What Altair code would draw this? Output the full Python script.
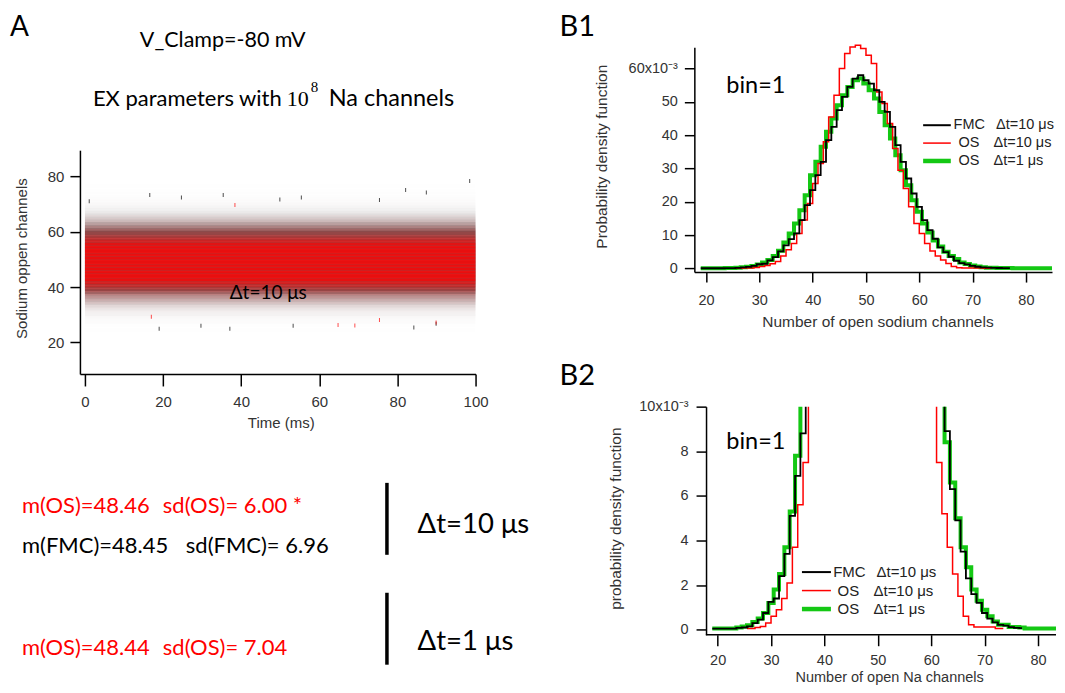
import altair as alt
import pandas as pd

# ------------------------------------------------------------------ data
# histogram of open-channel counts (probability density, units of 1e-3)
fmc_n = list(range(19, 78))
fmc_pdf = [0.05, 0.05, 0.05, 0.05, 0.05, 0.08, 0.1, 0.15, 0.3, 0.45,
           0.75, 1.25, 1.4, 2.4, 3.4, 5.1, 6.9, 8.8, 10.5, 14.5,
           19, 23.5, 28, 32, 38.5, 42.5, 47.5, 51.5, 54.5, 57,
           58, 56.5, 55.5, 53.5, 50, 47, 42.5, 37, 32, 27,
           22.5, 18.5, 14.5, 11.5, 8.9, 6.3, 4.9, 3.5, 2.3, 1.6,
           1.2, 0.75, 0.5, 0.33, 0.22, 0.18, 0.12, 0.08, 0.07]

os10_n = list(range(25, 74))          # bin left edges
os10_pdf = [0.05, 0.05, 0.1, 0.15, 0.3, 0.6, 0.9, 1.4, 2.1, 3.7,
            5.6, 7.5, 10.5, 14.5, 19.5, 25.5, 31.5, 38, 45.5, 52,
            60, 64.5, 66.5, 67, 66, 64, 61.5, 53, 49.5, 43.5,
            36, 29.5, 24, 18.5, 13.5, 10.5, 7.5, 5.2, 3.7, 2.5,
            1.5, 0.6, 0.22, 0.12, 0.12, 0.12, 0.12, 0.05, 0.05]

os1_n = list(range(19, 86))
os1_pdf = [0.05, 0.05, 0.05, 0.05, 0.05, 0.1, 0.15, 0.2, 0.35, 0.5,
           0.75, 1.2, 1.8, 2.5, 3.7, 5.3, 7.8, 10.5, 13.5, 17.5,
           22, 28, 32, 36.5, 41, 45, 49, 52, 54.5, 56.5,
           57, 55.5, 53.5, 51, 47, 43, 39, 34, 29.5, 25,
           20.5, 17, 13.5, 10.8, 8.4, 6.6, 5.0, 3.7, 2.8, 1.8,
           1.3, 0.9, 0.6, 0.37, 0.22, 0.22, 0.12, 0.12, 0.1, 0.05,
           0.05, 0.05, 0.05, 0.05, 0.05, 0.05, 0.05]

rec_start = 0     # ms, recording span in panel A
rec_end = 100

# sparse far-off samples visible in panel A
out_t = [1.1, 16.6, 19.0, 29.7, 37.1, 35.4, 24.7, 55.4, 82.1, 87.4, 98.5,
         84.2, 53.3, 89.9, 49.9, 75.4, 38.4, 64.8, 69.1, 75.4, 89.9, 17.0]
out_v = [71.0, 73.2, 24.9, 26.0, 24.9, 73.2, 72.3, 72.3, 75.0, 74.1, 78.3,
         25.4, 26.0, 26.7, 71.6, 71.4, 69.6, 26.3, 26.1, 28.1, 27.2, 29.3]
out_s = ["FMC"] * 16 + ["OS"] * 6

stats_os10 = ["m(OS)=48.46", "sd(OS)= 6.00 *"]
stats_fmc = ["m(FMC)=48.45", "sd(FMC)= 6.96"]
stats_os1 = ["m(OS)=48.44", "sd(OS)= 7.04"]

legend_names = ["FMC", "OS", "OS"]
legend_dt = ["Δt=10 μs", "Δt=10 μs", "Δt=1 μs"]

a_xticks = [0, 20, 40, 60, 80, 100]
a_yticks = [20, 40, 60, 80]
b_xticks = [20, 30, 40, 50, 60, 70, 80]
b1_yticks = [0, 10, 20, 30, 40, 50, 60]
b2_yticks = [0, 2, 4, 6, 8, 10]

# ------------------------------------------------------------------ style
BLACK = "#000000"
RED = "#ff0000"
GREEN = "#14c814"
AX = "Liberation Sans"
TX = "Lato"
SERIF = "Liberation Serif"

fmc_df = pd.DataFrame({"n": fmc_n, "pdf": fmc_pdf})
os10_df = pd.DataFrame({"n": os10_n, "pdf": os10_pdf})
os1_df = pd.DataFrame({"n": os1_n, "pdf": os1_pdf})
out_df = pd.DataFrame({"t": out_t, "v": out_v, "s": out_s})
one = pd.DataFrame({"k": [0]})


def txt(text, x, y, size, color=BLACK, font=TX, align="left", baseline="alphabetic"):
    return alt.Chart(one).mark_text(
        text=text, fontSize=size, color=color, font=font, align=align, baseline=baseline
    ).encode(x=alt.value(x), y=alt.value(y))


def rule(x, x2, y, y2, color=BLACK, width=1.5):
    return alt.Chart(one).mark_rule(color=color, strokeWidth=width).encode(
        x=alt.value(x), x2=alt.value(x2), y=alt.value(y), y2=alt.value(y2)
    )


# ------------------------------------------------------------------ header (top-left)
# invisible frame covering the whole 1049x677 drawing area (fixes the origin)
anchor = alt.Chart(one).mark_rect(opacity=0).encode(
    x=alt.value(-72), x2=alt.value(977), y=alt.value(-39), y2=alt.value(638)
)
header = alt.layer(
    anchor,
    txt("A", -70, -11, 28),
    txt("V_Clamp=-80 mV", 60, 0, 21.5),
    txt("EX parameters with", 202, 59, 22, align="right"),
    txt("10", 207, 59, 22, font=SERIF),
    txt("8", 231, 45, 15, font=SERIF),
    txt("Na channels", 249, 59, 23.5),
).properties(width=396, height=103)

# ------------------------------------------------------------------ panel A
xA = alt.Scale(domain=[-1.28, 100], nice=False, zero=False)
yA = alt.Scale(domain=[8.6, 89.4], nice=False, zero=False)
axA_x = alt.Axis(values=a_xticks, tickSize=12, labelPadding=9, labelFontSize=15,
                 title="Time (ms)", titleX=201, titleY=49, titleBaseline="middle",
                 titleFontSize=15, labelFlush=False)
axA_y = alt.Axis(values=a_yticks, tickSize=10, labelPadding=6, labelFontSize=15,
                 title="Sodium oppen channels", titleX=-58, titleY=108,
                 titleBaseline="middle", titleFontSize=15, labelFlush=False)

band_fmc = alt.Chart(fmc_df).transform_calculate(
    t0=str(rec_start), t1=str(rec_end), lo="datum.n - 0.5", hi="datum.n + 0.5",
    op="min(0.6, datum.pdf / 30)"
).mark_rect(color=BLACK).encode(
    x=alt.X("t0:Q", scale=xA, axis=axA_x), x2="t1:Q",
    y=alt.Y("lo:Q", scale=yA, axis=axA_y), y2="hi:Q",
    opacity=alt.Opacity("op:Q", scale=None),
)
band_os = alt.Chart(os10_df).transform_calculate(
    t0=str(rec_start), t1=str(rec_end), lo="datum.n", hi="datum.n + 1",
    op="min(0.85, datum.pdf / 45)"
).mark_rect(color=RED).encode(
    x=alt.X("t0:Q", scale=xA, axis=axA_x), x2="t1:Q",
    y=alt.Y("lo:Q", scale=yA, axis=axA_y), y2="hi:Q",
    opacity=alt.Opacity("op:Q", scale=None),
)
ticks = alt.Chart(out_df).transform_calculate(t0="datum.t", lo="datum.v").mark_tick(
    orient="vertical", size=4, thickness=1
).encode(
    x=alt.X("t0:Q", scale=xA, axis=axA_x),
    y=alt.Y("lo:Q", scale=yA, axis=axA_y),
    color=alt.Color("s:N", scale=alt.Scale(domain=["FMC", "OS"], range=[BLACK, RED]), legend=None),
)

panelA = alt.layer(
    band_fmc, band_os, ticks,
    txt("Δt=10 μs", 188.5, 143, 19, baseline="middle", align="center"),
    txt(stats_os10[0], -58, 363, 22, color=RED),
    txt(stats_os10[1], 83, 363, 22, color=RED),
    txt(stats_fmc[0], -58, 403, 22),
    txt(stats_fmc[1], 106, 403, 22),
    txt(stats_os1[0], -58, 505, 22, color=RED),
    txt(stats_os1[1], 83, 505, 22, color=RED),
    rule(307.3, 307.3, 333, 405, width=3.5),
    rule(307.3, 307.3, 443, 515, width=3.5),
    txt("Δt=10 μs", 338, 383, 27.5),
    txt("Δt=1 μs", 338, 500, 27.5),
).properties(width=396, height=224)


# ------------------------------------------------------------------ histograms
def hist_lines(xs, ys, xaxis, yaxis, clip):
    g = alt.Chart(os1_df).transform_calculate(xc="datum.n").mark_line(
        interpolate="step", color=GREEN, strokeWidth=4, clip=True
    ).encode(x=alt.X("xc:Q", scale=xs, axis=xaxis), y=alt.Y("pdf:Q", scale=ys, axis=yaxis))
    r = alt.Chart(os10_df).transform_calculate(xc="datum.n + 0.5").mark_line(
        interpolate="step", color=RED, strokeWidth=1.5, clip=clip
    ).encode(x=alt.X("xc:Q", scale=xs, axis=xaxis), y=alt.Y("pdf:Q", scale=ys, axis=yaxis))
    b = alt.Chart(fmc_df).transform_calculate(xc="datum.n").mark_line(
        interpolate="step", color=BLACK, strokeWidth=1.8, clip=clip
    ).encode(x=alt.X("xc:Q", scale=xs, axis=xaxis), y=alt.Y("pdf:Q", scale=ys, axis=yaxis))
    return [g, r, b]


def legend(x_line, x_name0, x_name, x_dt0, x_dt, y0, dy, size):
    layers = []
    colors = [BLACK, RED, GREEN]
    widths = [2, 1.5, 4.5]
    for i in range(3):
        y = y0 + i * dy
        layers.append(rule(x_line[0], x_line[1], y, y, color=colors[i], width=widths[i]))
        layers.append(txt(legend_names[i], x_name0 if i == 0 else x_name, y, size,
                          color="#222", font=AX, baseline="middle"))
        layers.append(txt(legend_dt[i], x_dt0 if i == 0 else x_dt, y, size,
                          color="#222", font=AX, baseline="middle"))
    return layers


xB1 = alt.Scale(domain=[17.8, 84.9], nice=False, zero=False)
yB1 = alt.Scale(domain=[-1.1, 66.4], nice=False, zero=False)
axB1_x = alt.Axis(values=b_xticks, tickSize=10, labelPadding=11, labelFlush=False,
                  title="Number of open sodium channels", titleX=183.3, titleY=49.7,
                  titleBaseline="middle")
axB1_y = alt.Axis(values=b1_yticks, tickSize=10, labelPadding=7, labelFlush=False,
                  labelExpr="datum.value == 60 ? '60x10⁻³' : datum.label",
                  title="Probability density function", titleX=-93.3, titleY=109,
                  titleBaseline="middle")

b1 = alt.layer(
    *hist_lines(xB1, yB1, axB1_x, axB1_y, False),
    txt("B1", -135, -11, 29),
    txt("bin=1", 32, 46, 23.5),
    *legend((229, 256.7), 259.5, 264.5, 302, 299.5, 78, 17.9, 14.5),
).properties(width=358, height=225)

xB2 = alt.Scale(domain=[15.64, 83.37], nice=False, zero=False)
yB2 = alt.Scale(domain=[-0.224, 10], nice=False, zero=False)
axB2_x = alt.Axis(values=b_xticks, tickSize=11, labelPadding=8, labelFlush=False,
                  domain=False,
                  title="Number of open Na channels", titleX=195, titleY=42.5,
                  titleFontSize=14.5, titleBaseline="middle")
axB2_y = alt.Axis(values=b2_yticks, tickSize=10, labelPadding=8, labelFlush=False,
                  offset=-11.7,
                  labelExpr="datum.value == 10 ? '10x10⁻³' : datum.label",
                  title="probability density function", titleX=-90.7, titleY=111.6,
                  titleBaseline="middle")
b2_axis_line = alt.Chart(one).mark_rule(color=BLACK, strokeWidth=1.5).encode(
    x=alt.datum(17.8, scale=xB2), x2=alt.datum(83.37), y=alt.value(228.3)
)

b2 = alt.layer(
    *hist_lines(xB2, yB2, axB2_x, axB2_y, True),
    b2_axis_line,
    txt("B2", -135, -21.7, 29),
    txt("bin=1", 32, 42.3, 23.5),
    *legend((107.7, 136.7), 139, 143.3, 182.3, 179.3, 165.6, 18.5, 15),
).properties(width=362, height=228.3)

left = alt.vconcat(header, panelA, spacing=0, bounds="flush")
right = alt.vconcat(b1, b2, spacing=134.7, bounds="flush")

# with flush bounds the nested left column counts as zero width,
# so the spacing is the full offset from panel A's left edge to B's left edge
chart = alt.hconcat(left, right, spacing=615, bounds="flush").properties(
    padding=0
).configure_view(strokeWidth=0).configure_axis(
    domainColor=BLACK, domainWidth=1.5, tickColor=BLACK, tickWidth=1.5,
    labelFont=AX, labelFontSize=14.5, labelColor="#333",
    titleFont=AX, titleFontSize=15.5, titleColor="#333", titleFontWeight="normal",
    grid=False,
)

chart.save("out.html", embed_options={"renderer": "svg", "actions": False})
